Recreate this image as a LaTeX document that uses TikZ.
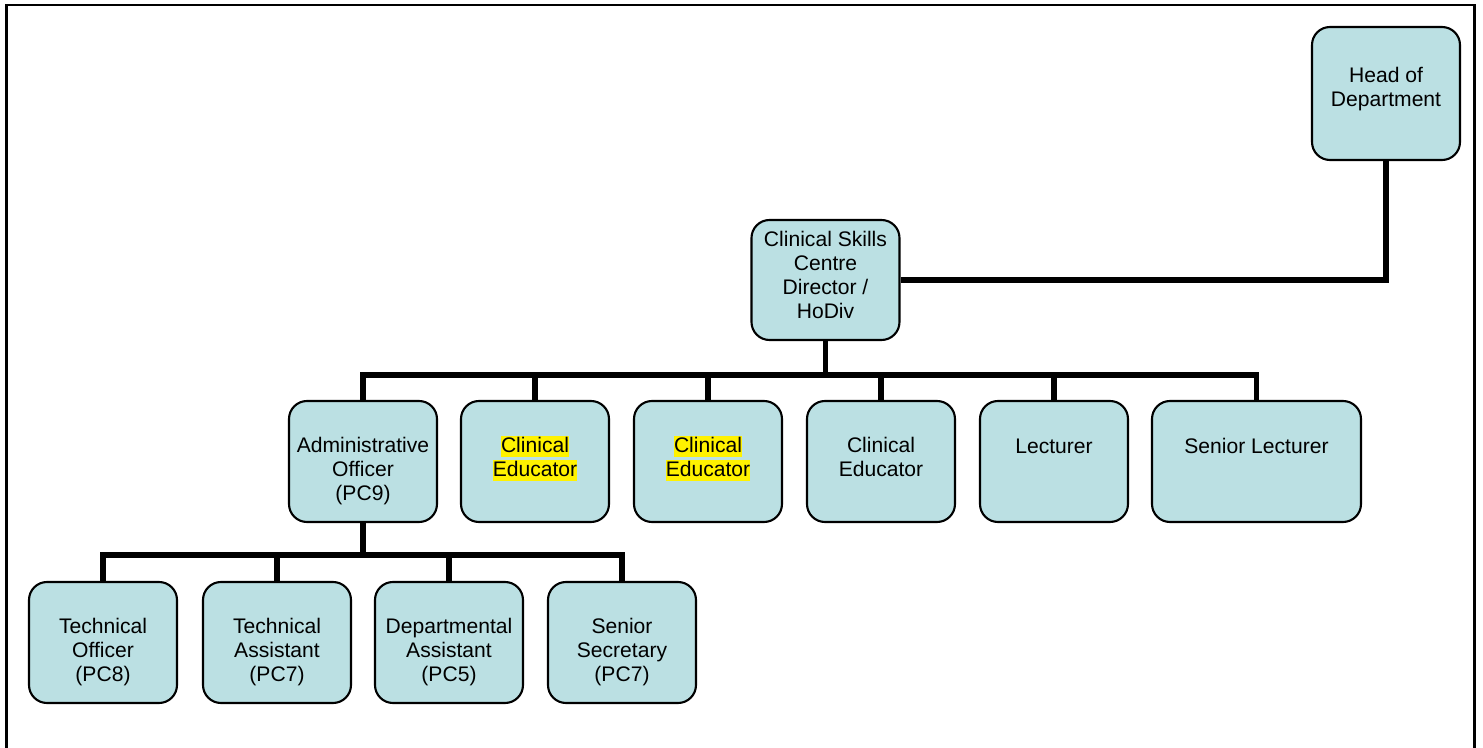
\documentclass[tikz,border=0pt]{standalone}
\usepackage{fontspec}
\setmainfont{Liberation Sans}
\usepackage{tikz}

\definecolor{orgfill}{HTML}{BBE0E3}
\newcommand{\hlt}[1]{{\setlength{\fboxsep}{0pt}\colorbox{yellow}{\rule[-1.4pt]{0pt}{6.1pt}#1}}}
% extra room above the first line / below the last line, to move the text block
\newcommand{\uproom}[1]{\rule{0pt}{#1}}
\newcommand{\downroom}[1]{\rule[-#1]{0pt}{0pt}}

\begin{document}
\begin{tikzpicture}
                \useasboundingbox (0,0) rectangle (14.83,-7.48);
                \draw[line width=0.85pt] (0.065,-7.6) -- (0.065,-0.05) -- (14.74,-0.05) -- (14.74,-7.6);
                \begin{scope}[every node/.style={draw, line width=0.6pt, fill=orgfill, rounded corners=0.18cm, align=center, inner sep=0pt, minimum width=1.48cm, minimum height=1.21cm, font=\fontsize{6}{6.83}\selectfont}]
                        \node (Head) [minimum height=1.33cm] at (13.86,-0.935) {Head of\\Department\downroom{3.6pt}};
                        \node (CSC) [minimum height=1.2cm] at (8.255,-2.80) {Clinical Skills\\Centre\\Director /\\HoDiv\downroom{3pt}};
                        \node (Admin) at (3.63,-4.615) {\uproom{10pt}Administrative\\Officer\\(PC9)};
                        \node (CEa) at (5.35,-4.615) {\hlt{Clinical}\\\hlt{Educator}\downroom{3.1pt}};
                        \node (CEb) at (7.08,-4.615) {\hlt{Clinical}\\\hlt{Educator}\downroom{3.1pt}};
                        \node (CEc) at (8.81,-4.615) {Clinical\\Educator\downroom{2.7pt}};
                        \node (Lect) at (10.54,-4.615) {Lecturer\\\strut};
                        \node (SLect) [minimum width=2.09cm] at (12.565,-4.615) {Senior Lecturer\\\strut};
                        \node (TO) at (1.03,-6.425) {\uproom{10pt}Technical\\Officer\\(PC8)};
                        \node (TA) at (2.77,-6.425) {\uproom{10pt}Technical\\Assistant\\(PC7)};
                        \node (DA) at (4.49,-6.425) {\uproom{10pt}Departmental\\Assistant\\(PC5)};
                        \node (SS) at (6.22,-6.425) {\uproom{10pt}Senior\\Secretary\\(PC7)};
                \end{scope}
                \coordinate (BusA) at (8.255,-3.75);
                \coordinate (BusB) at (3.63,-5.55);
                \begin{scope}[every path/.style={line width=1.7pt, line join=miter}]
                        \draw (Head.south) |- (CSC.east);
                        \draw (CSC.south) -- (BusA);
                        \draw (Admin.north) -- (Admin.north |- BusA) -- (SLect.north |- BusA) -- (SLect.north);
                        \draw (CEa.north) -- (CEa.north |- BusA);
                        \draw (CEb.north) -- (CEb.north |- BusA);
                        \draw (CEc.north) -- (CEc.north |- BusA);
                        \draw (Lect.north) -- (Lect.north |- BusA);
                        \draw (Admin.south) -- (BusB);
                        \draw (TO.north) -- (TO.north |- BusB) -- (SS.north |- BusB) -- (SS.north);
                        \draw (TA.north) -- (TA.north |- BusB);
                        \draw (DA.north) -- (DA.north |- BusB);
                \end{scope}
\end{tikzpicture}
\end{document}
